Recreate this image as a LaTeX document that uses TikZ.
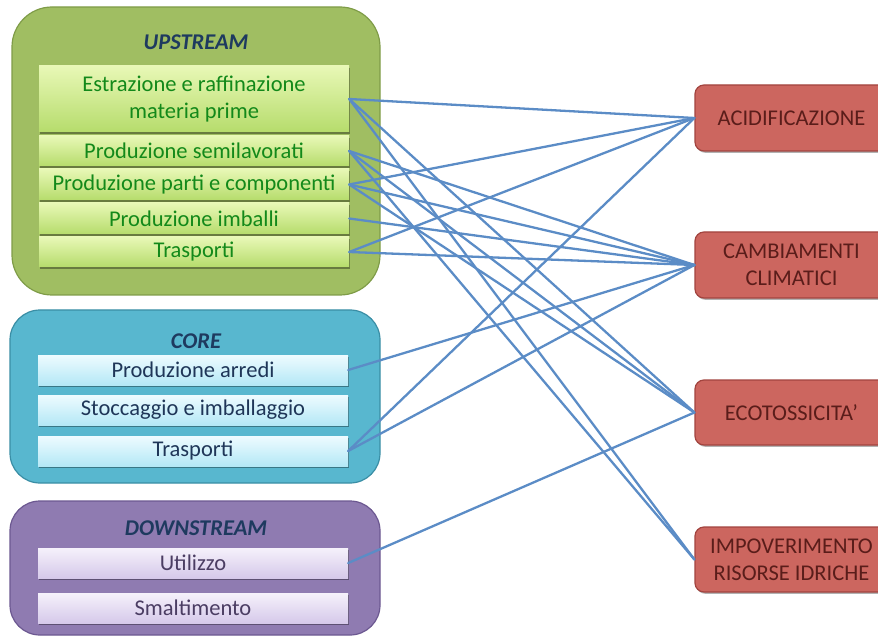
\documentclass[tikz,border=0pt]{standalone}
\usepackage{fontspec}
\setmainfont{Carlito}
\usetikzlibrary{shadows}
\definecolor{upfill}{HTML}{A0BE62}
\definecolor{updraw}{HTML}{7F9C48}
\definecolor{upA}{HTML}{E8F8B6}
\definecolor{upB}{HTML}{B6DC6C}
\definecolor{uptext}{HTML}{13891A}
\definecolor{corefill}{HTML}{58B7CF}
\definecolor{coredraw}{HTML}{3A8EA5}
\definecolor{coreA}{HTML}{EEFBFF}
\definecolor{coreB}{HTML}{B4E8F6}
\definecolor{coretext}{HTML}{1F3658}
\definecolor{dnfill}{HTML}{8F7BB1}
\definecolor{dndraw}{HTML}{6C5891}
\definecolor{dnA}{HTML}{F5F1FB}
\definecolor{dnB}{HTML}{D6C9EA}
\definecolor{dntext}{HTML}{4B3D63}
\definecolor{titletext}{HTML}{1E3A5F}
\definecolor{impfill}{HTML}{CC665F}
\definecolor{impdraw}{HTML}{A2443F}
\definecolor{imptext}{HTML}{5A1D1A}
\definecolor{linkc}{HTML}{5B8CC6}
\tikzset{
  contbox/.style={rectangle, inner sep=0pt, line width=1.2pt},
  titletxt/.style={text=titletext, font=\fontsize{22.5}{27}\selectfont\bfseries\itshape},
  ibox/.style={rectangle, inner sep=0pt, minimum width=310pt, minimum height=30pt,
    align=center, font=\fontsize{22.5}{27}\selectfont,
    drop shadow={shadow xshift=1.2pt, shadow yshift=-1.8pt, opacity=0.35, fill=black}},
  upbox/.style={ibox, top color=upA, bottom color=upB, text=uptext},
  corebox/.style={ibox, top color=coreA, bottom color=coreB, text=coretext},
  dnbox/.style={ibox, top color=dnA, bottom color=dnB, text=dntext},
  imp/.style={rectangle, rounded corners=9pt, draw=impdraw, line width=1.2pt, fill=impfill,
    text=imptext, minimum width=193pt, minimum height=65pt, inner sep=0pt, align=center,
    font=\fontsize{22.5}{27}\selectfont,
    drop shadow={shadow xshift=1.2pt, shadow yshift=-1.8pt, opacity=0.3, fill=black}},
  link/.style={draw=linkc, line width=2.3pt, line cap=round}
}
\begin{document}
\begin{tikzpicture}[x=1pt,y=-1pt]
\useasboundingbox (0,0) rectangle (878,636);
\clip (0,0) rectangle (878,636);
% containers
\node[contbox, rounded corners=40pt, draw=updraw, fill=upfill, minimum width=368pt, minimum height=288pt] (upc) at (196,151) {};
\node[contbox, rounded corners=30pt, draw=coredraw, fill=corefill, minimum width=370pt, minimum height=173pt] (corec) at (195,396.5) {};
\node[contbox, rounded corners=30pt, draw=dndraw, fill=dnfill, minimum width=370pt, minimum height=134pt] (dnc) at (195,568) {};
% titles
\node[titletxt] (upt) at (196,42) {UPSTREAM};
\node[titletxt] (coret) at (196,341) {CORE};
\node[titletxt] (dnt) at (196,528) {DOWNSTREAM};
% upstream boxes
\node[upbox, minimum height=66pt] (e1) at (194,99) {Estrazione e raffinazione\\materia prime};
\node[upbox] (e2) at (194,151) {Produzione semilavorati};
\node[upbox, minimum height=31pt] (e3) at (194,184.5) {Produzione parti e componenti};
\node[upbox, minimum height=31pt] (e4) at (194,218.5) {Produzione imballi};
\node[upbox] (e5) at (194,252) {Trasporti};
% core boxes
\node[corebox] (c1) at (193,370) {Produzione arredi};
\node[corebox] (c2) at (193,410) {Stoccaggio e imballaggio};
\node[corebox] (c3) at (193,451) {Trasporti};
% downstream boxes
\node[dnbox] (d1) at (193,563) {Utilizzo};
\node[dnbox] (d2) at (193,608) {Smaltimento};
% impact boxes
\node[imp, minimum height=66pt] (acid) at (791.5,118) {ACIDIFICAZIONE};
\node[imp, minimum height=66pt] (camb) at (791.5,265) {CAMBIAMENTI\\CLIMATICI};
\node[imp] (eco) at (791.5,412.5) {ECOTOSSICITA’};
\node[imp] (impov) at (791.5,559.5) {IMPOVERIMENTO\\RISORSE IDRICHE};
% links
\draw[link] (e1.east) -- (acid.west);
\draw[link] (e1.east) -- (eco.west);
\draw[link] (e1.east) -- (impov.west);
\draw[link] (e2.east) -- (camb.west);
\draw[link] (e2.east) -- (eco.west);
\draw[link] (e2.east) -- (impov.west);
\draw[link] (e3.east) -- (acid.west);
\draw[link] (e3.east) -- (camb.west);
\draw[link] (e3.east) -- (eco.west);
\draw[link] (e4.east) -- (camb.west);
\draw[link] (e5.east) -- (acid.west);
\draw[link] (e5.east) -- (camb.west);
\draw[link] (c1.east) -- (camb.west);
\draw[link] (c3.east) -- (acid.west);
\draw[link] (c3.east) -- (camb.west);
\draw[link] (d1.east) -- (eco.west);
\end{tikzpicture}
\end{document}
